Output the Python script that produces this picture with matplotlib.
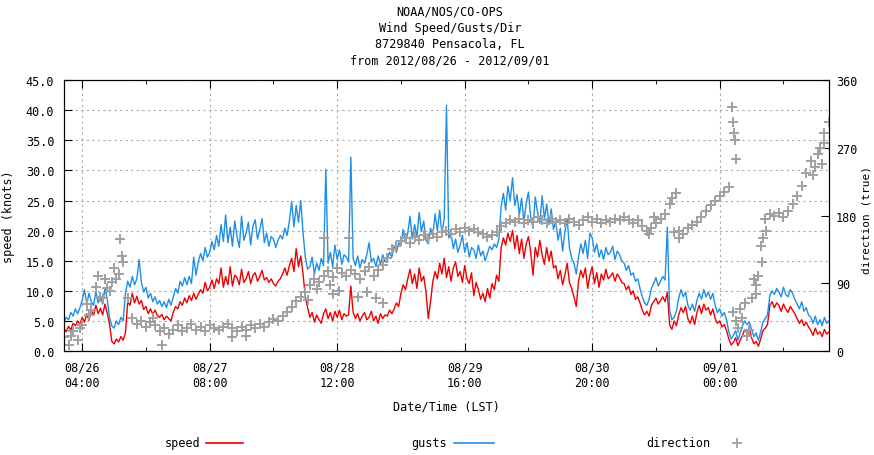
import matplotlib
matplotlib.use('Agg')
import matplotlib.pyplot as plt
from matplotlib.lines import Line2D
import numpy as np
import pandas as pd

plt.rcParams['font.family'] = 'DejaVu Sans Mono'
plt.rcParams['font.size'] = 8.5

title_lines = ["NOAA/NOS/CO-OPS", "Wind Speed/Gusts/Dir",
               "8729840 Pensacola, FL", "from 2012/08/26 - 2012/09/01"]

# half-hourly samples from 2012/08/26 00:00 (knots)
speed = [
    3.8, 3.2, 4.1, 3.5, 4.6, 4.2, 5.0, 4.4, 5.6, 4.8, 6.2, 5.1, 6.8, 5.9, 7.6, 6.2, 7.1, 6.0, 7.8, 6.3, 4.5, 1.6, 1.2, 2.0,
    1.5, 2.4, 1.8, 3.0, 8.2, 7.6, 9.6, 8.0, 9.1, 7.8, 8.4, 6.9, 7.4, 6.2, 7.0, 6.1, 6.8, 5.9, 5.6, 6.1, 5.2, 5.8, 5.4, 5.0,
    6.4, 7.4, 7.0, 8.2, 7.6, 8.8, 8.0, 9.2, 8.4, 9.6, 8.6, 9.4, 10.2, 9.6, 11.4, 10.0, 10.6, 11.8, 10.4, 12.0, 11.2, 13.8, 10.6, 12.4,
    11.0, 14.0, 10.8, 12.6, 12.2, 11.0, 13.6, 11.4, 12.0, 13.2, 11.2, 12.6, 13.0, 11.6, 12.4, 13.4, 11.8, 12.2, 11.4, 12.0, 11.2, 10.8, 11.6, 12.0,
    12.8, 13.8, 12.6, 14.2, 15.4, 13.2, 17.0, 14.0, 15.8, 12.8, 9.0, 7.2, 5.6, 6.4, 4.8, 6.0, 5.2, 4.6, 6.2, 7.0, 5.4, 6.4, 5.0, 6.6,
    5.6, 6.8, 5.2, 6.2, 5.8, 6.0, 10.8, 6.4, 5.4, 6.2, 5.0, 5.8, 6.4, 5.2, 5.6, 6.6, 5.0, 5.8, 4.6, 6.2, 5.4, 6.0, 5.8, 6.8,
    6.2, 7.0, 8.0, 7.4, 9.6, 11.0, 10.2, 12.0, 13.6, 11.2, 12.8, 10.4, 13.8, 11.6, 12.4, 9.8, 5.4, 8.2, 11.6, 13.2, 12.0, 14.6, 12.8, 15.4,
    12.2, 14.0, 11.6, 13.8, 14.8, 12.4, 13.2, 11.4, 14.2, 12.0, 11.2, 13.0, 9.2, 11.4, 10.2, 8.6, 9.6, 8.2, 10.4, 8.8, 11.2, 10.2, 12.6, 11.6,
    17.2, 18.8, 17.6, 19.6, 18.2, 20.0, 17.0, 19.2, 16.2, 18.6, 15.4, 17.8, 19.0, 16.4, 12.6, 17.2, 15.6, 18.4, 16.0, 14.4, 17.2, 15.0, 16.6, 13.8,
    14.2, 12.0, 13.4, 11.0, 12.6, 14.6, 11.4, 10.4, 9.0, 7.4, 11.6, 13.4, 12.2, 13.8, 10.4, 12.6, 14.0, 11.2, 13.0, 10.6, 12.8, 11.8, 13.6, 12.0,
    12.4, 13.0, 11.6, 12.8, 12.2, 11.4, 11.2, 10.2, 10.8, 9.4, 10.0, 8.6, 9.0, 8.0, 6.8, 6.0, 6.6, 5.8, 7.6, 8.2, 8.8, 7.8, 8.4, 9.0,
    8.2, 9.8, 4.4, 3.6, 5.0, 4.2, 6.0, 7.2, 6.4, 7.4, 5.4, 4.6, 5.8, 4.4, 6.4, 7.6, 6.2, 7.8, 6.8, 7.2, 6.0, 7.0, 5.4, 4.6,
    5.0, 4.0, 4.4, 3.4, 2.0, 1.0, 1.4, 2.2, 0.9, 1.8, 2.6, 3.6, 3.0, 3.8, 2.2, 1.2, 1.6, 0.8, 2.0, 3.4, 3.8, 4.4, 7.6, 8.2,
    7.2, 8.0, 7.6, 6.6, 7.8, 7.0, 6.4, 7.4, 6.8, 6.2, 5.4, 4.6, 5.2, 4.2, 4.8, 4.0, 3.4, 2.6, 3.8, 2.8, 3.2, 2.4, 3.6, 2.8,
    3.2]

gusts = [
    4.8, 5.6, 5.2, 6.4, 5.8, 7.0, 6.2, 7.2, 8.4, 10.2, 7.8, 9.6, 8.2, 7.6, 9.8, 8.0, 9.2, 7.8, 10.4, 8.6, 5.6, 4.2, 3.8, 5.0,
    4.4, 5.6, 5.0, 9.6, 11.6, 10.6, 12.4, 11.0, 12.0, 15.2, 11.4, 9.8, 10.6, 8.8, 9.6, 8.2, 9.0, 7.8, 8.4, 7.4, 8.2, 7.2, 8.6, 7.6,
    9.0, 10.4, 9.6, 11.6, 10.8, 12.2, 11.0, 12.4, 11.2, 15.6, 12.6, 14.8, 16.2, 15.0, 17.2, 15.6, 16.4, 18.2, 16.8, 19.2, 17.4, 21.0, 18.2, 22.6,
    18.0, 20.6, 17.4, 21.6, 19.0, 17.2, 22.4, 18.4, 19.6, 21.4, 17.6, 20.8, 21.8, 18.6, 20.2, 22.0, 18.0, 19.6, 17.4, 19.0, 18.6, 17.2, 18.4, 19.2,
    18.6, 20.4, 19.2, 21.6, 24.8, 20.6, 24.2, 21.4, 25.0, 19.6, 15.6, 13.6, 14.0, 15.6, 12.8, 14.6, 13.4, 15.4, 14.2, 30.2, 14.6, 16.4, 14.0, 17.6,
    15.2, 16.8, 14.4, 16.0, 15.6, 14.8, 32.2, 15.4, 14.2, 15.8, 13.8, 15.2, 14.6, 16.0, 18.0, 14.8, 15.4, 14.0, 15.8, 14.4, 16.0, 14.8, 15.2, 16.4,
    15.6, 17.4, 16.4, 18.0, 17.6, 20.2, 18.0, 19.6, 22.4, 18.6, 21.0, 19.0, 23.0, 19.8, 21.6, 18.4, 17.8, 20.4, 19.2, 22.8, 20.0, 23.4, 19.4, 22.0,
    40.8, 18.8, 19.6, 17.0, 18.6, 16.4, 17.6, 19.2, 16.4, 18.0, 15.6, 17.2, 16.8, 15.4, 17.6, 15.8, 16.6, 15.0, 16.2, 17.4, 16.8, 17.8, 17.2, 18.6,
    24.0, 26.2, 23.4, 27.4, 25.0, 28.8, 24.2, 26.0, 22.6, 25.4, 21.4, 24.6, 26.4, 22.2, 20.4, 25.6, 23.0, 21.2, 25.8, 22.0, 24.4, 21.0, 23.6, 20.2,
    21.6, 18.4, 20.4, 16.6, 19.8, 22.0, 17.2, 15.4, 14.6, 12.8, 15.6, 17.8, 16.2, 18.4, 15.4, 19.6, 18.8, 16.4, 17.8, 15.6, 16.8, 15.2, 17.2, 16.0,
    16.4, 17.4, 15.2, 16.6, 16.0, 15.0, 14.6, 13.4, 14.2, 12.6, 13.0, 11.6, 12.0, 10.4, 9.0, 8.0, 7.6, 8.6, 10.4, 11.2, 12.2, 10.8, 11.6, 12.4,
    11.8, 20.6, 6.8, 5.2, 5.6, 6.6, 8.8, 10.2, 9.0, 9.8, 7.6, 6.8, 7.8, 6.6, 8.4, 9.6, 8.6, 10.2, 9.0, 9.8, 8.6, 9.6, 7.6, 6.4,
    7.0, 5.8, 6.4, 5.2, 3.2, 2.0, 2.6, 3.4, 1.8, 3.0, 4.2, 5.0, 4.4, 4.8, 3.6, 2.4, 3.0, 1.8, 3.2, 4.8, 5.4, 6.0, 9.2, 10.0,
    9.4, 10.4, 9.8, 9.0, 10.6, 9.4, 9.0, 10.2, 9.6, 8.6, 7.8, 7.0, 8.2, 6.6, 7.2, 6.0, 5.6, 4.6, 5.8, 4.4, 5.2, 4.2, 5.6, 4.6,
    5.0]

# hourly direction (deg true)
direction = [
    18, 8, 26, 14, 35, 62, 55, 85, 72, 96, 80, 110, 102, 118, 70, 44, 36, 40, 32, 38, 34, 26, 30, 22,
    28, 34, 26, 30, 36, 28, 32, 26, 34, 30, 28, 32, 36, 30, 26, 32, 28, 34, 30, 36, 32, 38, 42, 40,
    46, 52, 58, 66, 72, 78, 88, 96, 92, 100, 106, 98, 110, 104, 100, 108, 102, 96, 106, 112, 100, 108, 114, 124,
    136, 140, 146, 150, 144, 152, 148, 154, 150, 156, 152, 158, 160, 156, 162, 158, 164, 160, 162, 158, 156, 152, 154, 158,
    166, 170, 174, 172, 176, 170, 174, 172, 178, 174, 170, 176, 172, 174, 170, 176, 172, 168, 174, 178, 172, 176, 170, 174,
    172, 176, 174, 178, 174, 170, 174, 166, 160, 164, 170, 176, 182, 196, 158, 150, 156, 164, 168, 172, 178, 186, 194, 200,
    206, 212, 218, 52, 30, 44, 20, 70, 88, 140, 176, 182, 180, 184, 178, 186, 196, 206, 220, 236, 252, 244, 270, 290,
    304]

# scattered direction readings (hours after start, deg)
dir_extra_h = [1.5, 3.5, 5.5, 7.5, 8.5, 9.5, 10.5, 11.5, 12.3, 12.8, 19.5, 21.5, 37, 40,
               53.5, 55.5, 57, 58.5, 59, 60.5, 62.5, 64.5, 66.5, 68.5, 70,
               128.5, 129.5, 133.5, 134.5, 135, 146.6, 146.9, 147.1, 147.3, 147.6,
               147.5, 148.5, 149.5, 150.5, 151.5, 152, 152.5, 153.2, 153.6, 154.2,
               164.5, 165.5, 166.5, 167]
dir_extra_v = [20, 30, 48, 100, 70, 84, 92, 96, 149, 126, 44, 8, 18, 20,
               68, 82, 150, 88, 76, 80, 150, 72, 78, 70, 64,
               156, 178, 204, 210, 160, 325, 305, 290, 280, 255,
               40, 56, 64, 28, 96, 76, 100, 118, 150, 160,
               234, 262, 248, 276]

start = pd.Timestamp('2012-08-26 00:00')
t_half = pd.date_range(start, periods=len(speed), freq='30min')
t_hour = pd.date_range(start, periods=len(direction), freq='h')
t_extra = start + pd.to_timedelta(dir_extra_h, unit='h')

major = pd.date_range('2012-08-26 04:00', periods=6, freq='28h')
minor = pd.date_range('2012-08-26 18:00', periods=6, freq='28h')

fig = plt.figure(figsize=(8.74, 4.56), dpi=100)
ax = fig.add_axes([0.0732, 0.228, 0.8753, 0.594])

ax.plot(t_half, speed, color='#ee0000', lw=1.0)
ax.plot(t_half, gusts, color='#1f8ee6', lw=1.0)

ax.set_xlim(start, pd.Timestamp('2012-09-02 00:00'))
ax.set_ylim(0, 45)
ax.set_yticks(np.arange(0, 45.1, 5))
ax.set_yticklabels(['%.1f' % v for v in np.arange(0, 45.1, 5)])
ax.set_xticks(major)
ax.set_xticklabels([d.strftime('%m/%d\n%H:%M') for d in major])
ax.set_xticks(minor, minor=True)
ax.tick_params(which='both', direction='in', top=True, right=False, pad=7)
ax.tick_params(which='major', length=6)
ax.tick_params(which='minor', length=3)
ax.grid(True, which='major', color='#aaaaaa', linestyle=(0, (2, 3)), lw=0.8)
ax.set_axisbelow(True)
ax.set_xlabel('Date/Time (LST)', labelpad=8)
ax.set_ylabel('speed (knots)', labelpad=8)

ax2 = ax.twinx()
ax2.plot(t_hour, direction, '+', color='#a0a0a0', ms=6.5, mew=1.4)
ax2.plot(t_extra, dir_extra_v, '+', color='#a0a0a0', ms=6.5, mew=1.4)
ax2.set_ylim(0, 360)
ax2.set_yticks([0, 90, 180, 270, 360])
ax2.tick_params(direction='in', length=6, pad=5)
fig.text(0.991, 0.518, 'direction (true)', rotation=90, ha='center', va='center',
         fontsize=8)

for i, line in enumerate(title_lines):
    fig.text(0.515, 1 - (12 + 16.3 * i) / 456, line, ha='center', va='center')

# legend row along the bottom
ly = 12 / 456
fig.text(200 / 874, ly, 'speed', ha='right', va='center')
fig.add_artist(Line2D([206 / 874, 243 / 874], [ly, ly], color='#ee0000', lw=1.2))
fig.text(447 / 874, ly, 'gusts', ha='right', va='center')
fig.add_artist(Line2D([454 / 874, 494 / 874], [ly, ly], color='#1f8ee6', lw=1.2))
fig.text(710 / 874, ly, 'direction', ha='right', va='center')
fig.add_artist(Line2D([737 / 874], [ly], marker='+', color='#a0a0a0', ms=7, mew=1.3))

fig.savefig('out.png', dpi=100)
